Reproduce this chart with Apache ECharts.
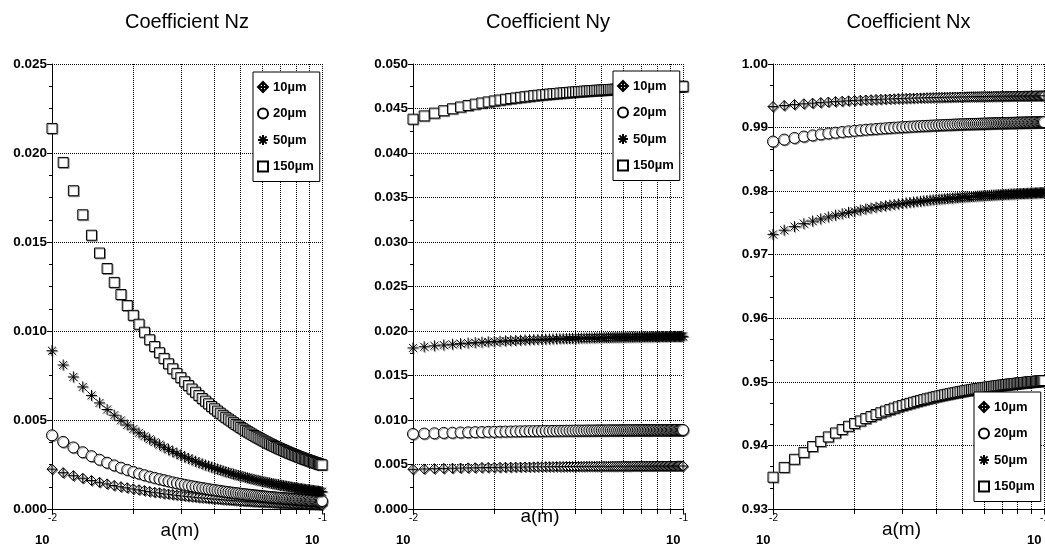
<!DOCTYPE html>
<html>
<head>
<meta charset="utf-8">
<script src="https://cdn.jsdelivr.net/npm/echarts@6/dist/echarts.min.js"></script>
<style>
html,body{margin:0;padding:0;background:#fff;}
#chart{width:1045px;height:552px;}
</style>
</head>
<body>
<div id="chart"></div>
<script>
// ---------------- DATA ----------------
const panelTitles = ['Coefficient Nz', 'Coefficient Ny', 'Coefficient Nx'];
const seriesNames = ['10µm', '20µm', '50µm', '150µm'];
const xAxisName = 'a(m)';
// sample positions a (m)
const aValues = [0.010,0.011,0.012,0.013,0.014,0.015,0.016,0.017,0.018,0.019,
  0.020,0.021,0.022,0.023,0.024,0.025,0.026,0.027,0.028,0.029,
  0.030,0.031,0.032,0.033,0.034,0.035,0.036,0.037,0.038,0.039,
  0.040,0.041,0.042,0.043,0.044,0.045,0.046,0.047,0.048,0.049,
  0.050,0.051,0.052,0.053,0.054,0.055,0.056,0.057,0.058,0.059,
  0.060,0.061,0.062,0.063,0.064,0.065,0.066,0.067,0.068,0.069,
  0.070,0.071,0.072,0.073,0.074,0.075,0.076,0.077,0.078,0.079,
  0.080,0.081,0.082,0.083,0.084,0.085,0.086,0.087,0.088,0.089,
  0.090,0.091,0.092,0.093,0.094,0.095,0.096,0.097,0.098,0.099,0.100];
// log-axis tick / grid positions and labelled decades
const xTickA = [0.01,0.02,0.03,0.04,0.05,0.06,0.07,0.08,0.09,0.1];
const xLabelA = [0.01, 0.1];

// Coefficient Nz
const nz10 = [0.00224,0.00204,0.00187,0.00173,0.00160,0.00150,0.00141,0.00132,0.00125,0.00119,
  0.00113,0.00108,0.00103,0.00098,0.00094,0.00091,0.00087,0.00084,0.00081,0.00078,
  0.00076,0.00073,0.00071,0.00069,0.00067,0.00065,0.00063,0.00062,0.00060,0.00059,
  0.00057,0.00056,0.00055,0.00053,0.00052,0.00051,0.00050,0.00049,0.00048,0.00047,
  0.00046,0.00045,0.00044,0.00044,0.00043,0.00042,0.00041,0.00041,0.00040,0.00039,
  0.00039,0.00038,0.00038,0.00037,0.00037,0.00036,0.00035,0.00035,0.00034,0.00034,
  0.00034,0.00033,0.00033,0.00032,0.00032,0.00031,0.00031,0.00031,0.00030,0.00030,
  0.00030,0.00029,0.00029,0.00029,0.00028,0.00028,0.00028,0.00027,0.00027,0.00027,
  0.00026,0.00026,0.00026,0.00026,0.00025,0.00025,0.00025,0.00025,0.00024,0.00024,0.00024];
const nz20 = [0.00414,0.00377,0.00346,0.00319,0.00297,0.00277,0.00260,0.00245,0.00232,0.00220,
  0.00209,0.00199,0.00190,0.00182,0.00175,0.00168,0.00162,0.00156,0.00150,0.00145,
  0.00141,0.00136,0.00132,0.00128,0.00125,0.00121,0.00118,0.00115,0.00112,0.00109,
  0.00107,0.00104,0.00102,0.00099,0.00097,0.00095,0.00093,0.00091,0.00089,0.00088,
  0.00086,0.00084,0.00083,0.00081,0.00080,0.00079,0.00077,0.00076,0.00075,0.00074,
  0.00072,0.00071,0.00070,0.00069,0.00068,0.00067,0.00066,0.00065,0.00064,0.00063,
  0.00063,0.00062,0.00061,0.00060,0.00059,0.00059,0.00058,0.00057,0.00057,0.00056,
  0.00055,0.00055,0.00054,0.00053,0.00053,0.00052,0.00052,0.00051,0.00051,0.00050,
  0.00050,0.00049,0.00049,0.00048,0.00048,0.00047,0.00047,0.00046,0.00046,0.00045,0.00045];
const nz50 = [0.00889,0.00809,0.00742,0.00686,0.00638,0.00596,0.00559,0.00527,0.00498,0.00472,
  0.00449,0.00428,0.00409,0.00392,0.00376,0.00361,0.00347,0.00335,0.00323,0.00312,
  0.00302,0.00293,0.00284,0.00276,0.00268,0.00260,0.00253,0.00247,0.00241,0.00235,
  0.00229,0.00224,0.00219,0.00214,0.00209,0.00205,0.00200,0.00196,0.00192,0.00189,
  0.00185,0.00182,0.00178,0.00175,0.00172,0.00169,0.00166,0.00163,0.00161,0.00158,
  0.00156,0.00153,0.00151,0.00149,0.00147,0.00144,0.00142,0.00140,0.00138,0.00137,
  0.00135,0.00133,0.00131,0.00130,0.00128,0.00126,0.00125,0.00123,0.00122,0.00120,
  0.00119,0.00118,0.00116,0.00115,0.00114,0.00113,0.00111,0.00110,0.00109,0.00108,
  0.00107,0.00106,0.00105,0.00104,0.00103,0.00102,0.00101,0.00100,0.00099,0.00098,0.00097];
const nz150 = [0.02138,0.01947,0.01788,0.01653,0.01538,0.01438,0.01351,0.01273,0.01205,0.01143,
  0.01088,0.01038,0.00993,0.00951,0.00913,0.00878,0.00846,0.00816,0.00788,0.00762,
  0.00738,0.00715,0.00694,0.00674,0.00656,0.00638,0.00621,0.00606,0.00591,0.00576,
  0.00563,0.00550,0.00538,0.00526,0.00515,0.00505,0.00495,0.00485,0.00475,0.00467,
  0.00458,0.00450,0.00442,0.00434,0.00427,0.00420,0.00413,0.00406,0.00400,0.00394,
  0.00388,0.00382,0.00377,0.00371,0.00366,0.00361,0.00356,0.00351,0.00347,0.00342,
  0.00338,0.00334,0.00330,0.00326,0.00322,0.00318,0.00314,0.00311,0.00307,0.00304,
  0.00301,0.00297,0.00294,0.00291,0.00288,0.00285,0.00282,0.00279,0.00277,0.00274,
  0.00271,0.00269,0.00266,0.00264,0.00261,0.00259,0.00257,0.00254,0.00252,0.00250,0.00248];

// Coefficient Ny
const ny10 = [0.00446,0.00450,0.00453,0.00456,0.00458,0.00460,0.00462,0.00463,0.00465,0.00466,
  0.00467,0.00468,0.00469,0.00470,0.00471,0.00471,0.00472,0.00472,0.00473,0.00474,
  0.00474,0.00475,0.00475,0.00475,0.00476,0.00476,0.00476,0.00477,0.00477,0.00477,
  0.00478,0.00478,0.00478,0.00478,0.00479,0.00479,0.00479,0.00479,0.00479,0.00479,
  0.00480,0.00480,0.00480,0.00480,0.00480,0.00480,0.00480,0.00480,0.00481,0.00481,
  0.00481,0.00481,0.00481,0.00481,0.00481,0.00482,0.00482,0.00482,0.00482,0.00482,
  0.00482,0.00482,0.00482,0.00482,0.00482,0.00482,0.00482,0.00482,0.00482,0.00483,
  0.00483,0.00483,0.00483,0.00483,0.00483,0.00483,0.00483,0.00483,0.00483,0.00483,
  0.00483,0.00483,0.00483,0.00483,0.00483,0.00484,0.00484,0.00484,0.00484,0.00484,0.00484];
const ny20 = [0.00843,0.00848,0.00851,0.00855,0.00857,0.00860,0.00862,0.00864,0.00865,0.00867,
  0.00868,0.00869,0.00870,0.00871,0.00872,0.00873,0.00874,0.00875,0.00875,0.00876,
  0.00876,0.00877,0.00877,0.00878,0.00878,0.00879,0.00879,0.00880,0.00880,0.00880,
  0.00881,0.00881,0.00881,0.00881,0.00882,0.00882,0.00882,0.00882,0.00883,0.00883,
  0.00883,0.00883,0.00883,0.00884,0.00884,0.00884,0.00884,0.00884,0.00884,0.00885,
  0.00885,0.00885,0.00885,0.00885,0.00885,0.00885,0.00885,0.00886,0.00886,0.00886,
  0.00886,0.00886,0.00886,0.00886,0.00886,0.00886,0.00886,0.00887,0.00887,0.00887,
  0.00887,0.00887,0.00887,0.00887,0.00887,0.00887,0.00887,0.00887,0.00887,0.00887,
  0.00887,0.00888,0.00888,0.00888,0.00888,0.00888,0.00888,0.00888,0.00888,0.00888,0.00888];
const ny50 = [0.01810,0.01823,0.01834,0.01843,0.01851,0.01858,0.01864,0.01869,0.01874,0.01878,
  0.01882,0.01885,0.01889,0.01891,0.01894,0.01896,0.01899,0.01901,0.01903,0.01904,
  0.01906,0.01908,0.01909,0.01910,0.01912,0.01913,0.01914,0.01915,0.01916,0.01917,
  0.01918,0.01919,0.01920,0.01921,0.01921,0.01922,0.01923,0.01923,0.01924,0.01925,
  0.01925,0.01926,0.01926,0.01927,0.01927,0.01928,0.01928,0.01929,0.01929,0.01930,
  0.01930,0.01930,0.01931,0.01931,0.01932,0.01932,0.01932,0.01933,0.01933,0.01933,
  0.01933,0.01934,0.01934,0.01934,0.01935,0.01935,0.01935,0.01935,0.01936,0.01936,
  0.01936,0.01936,0.01936,0.01937,0.01937,0.01937,0.01937,0.01937,0.01938,0.01938,
  0.01938,0.01938,0.01938,0.01939,0.01939,0.01939,0.01939,0.01939,0.01939,0.01940,0.01940];
const ny150 = [0.04380,0.04417,0.04448,0.04475,0.04497,0.04517,0.04534,0.04549,0.04562,0.04574,
  0.04585,0.04595,0.04604,0.04612,0.04619,0.04626,0.04632,0.04638,0.04644,0.04649,
  0.04653,0.04658,0.04662,0.04666,0.04669,0.04673,0.04676,0.04679,0.04682,0.04685,
  0.04688,0.04690,0.04692,0.04695,0.04697,0.04699,0.04701,0.04703,0.04705,0.04706,
  0.04708,0.04710,0.04711,0.04713,0.04714,0.04716,0.04717,0.04718,0.04719,0.04721,
  0.04722,0.04723,0.04724,0.04725,0.04726,0.04727,0.04728,0.04729,0.04730,0.04731,
  0.04731,0.04732,0.04733,0.04734,0.04735,0.04735,0.04736,0.04737,0.04737,0.04738,
  0.04739,0.04739,0.04740,0.04741,0.04741,0.04742,0.04742,0.04743,0.04743,0.04744,
  0.04744,0.04745,0.04745,0.04746,0.04746,0.04747,0.04747,0.04748,0.04748,0.04749,0.04749];

// Coefficient Nx
const nx10 = [0.99330,0.99347,0.99362,0.99374,0.99384,0.99393,0.99401,0.99408,0.99414,0.99420,
  0.99425,0.99430,0.99434,0.99437,0.99441,0.99444,0.99447,0.99450,0.99452,0.99455,
  0.99457,0.99459,0.99461,0.99462,0.99464,0.99466,0.99467,0.99469,0.99470,0.99471,
  0.99473,0.99474,0.99475,0.99476,0.99477,0.99478,0.99479,0.99480,0.99480,0.99481,
  0.99482,0.99483,0.99484,0.99484,0.99485,0.99486,0.99486,0.99487,0.99487,0.99488,
  0.99488,0.99489,0.99489,0.99490,0.99490,0.99491,0.99491,0.99492,0.99492,0.99492,
  0.99493,0.99493,0.99494,0.99494,0.99494,0.99495,0.99495,0.99495,0.99496,0.99496,
  0.99496,0.99497,0.99497,0.99497,0.99497,0.99498,0.99498,0.99498,0.99498,0.99499,
  0.99499,0.99499,0.99499,0.99500,0.99500,0.99500,0.99500,0.99500,0.99501,0.99501,0.99501];
const nx20 = [0.98780,0.98811,0.98837,0.98859,0.98877,0.98893,0.98908,0.98920,0.98931,0.98941,
  0.98950,0.98958,0.98966,0.98972,0.98978,0.98984,0.98989,0.98994,0.98999,0.99003,
  0.99007,0.99010,0.99014,0.99017,0.99020,0.99023,0.99026,0.99028,0.99031,0.99033,
  0.99035,0.99037,0.99039,0.99041,0.99043,0.99044,0.99046,0.99048,0.99049,0.99051,
  0.99052,0.99053,0.99055,0.99056,0.99057,0.99058,0.99059,0.99060,0.99061,0.99062,
  0.99063,0.99064,0.99065,0.99066,0.99067,0.99068,0.99069,0.99069,0.99070,0.99071,
  0.99071,0.99072,0.99073,0.99073,0.99074,0.99075,0.99075,0.99076,0.99076,0.99077,
  0.99078,0.99078,0.99079,0.99079,0.99080,0.99080,0.99080,0.99081,0.99081,0.99082,
  0.99082,0.99083,0.99083,0.99083,0.99084,0.99084,0.99085,0.99085,0.99085,0.99086,0.99086];
const nx50 = [0.97320,0.97386,0.97442,0.97489,0.97529,0.97563,0.97594,0.97621,0.97644,0.97666,
  0.97685,0.97702,0.97718,0.97733,0.97746,0.97758,0.97769,0.97780,0.97789,0.97798,
  0.97807,0.97815,0.97822,0.97829,0.97835,0.97841,0.97847,0.97853,0.97858,0.97863,
  0.97868,0.97872,0.97876,0.97880,0.97884,0.97888,0.97891,0.97895,0.97898,0.97901,
  0.97904,0.97907,0.97910,0.97912,0.97915,0.97917,0.97920,0.97922,0.97924,0.97926,
  0.97928,0.97930,0.97932,0.97934,0.97936,0.97938,0.97939,0.97941,0.97943,0.97944,
  0.97946,0.97947,0.97949,0.97950,0.97951,0.97953,0.97954,0.97955,0.97956,0.97958,
  0.97959,0.97960,0.97961,0.97962,0.97963,0.97964,0.97965,0.97966,0.97967,0.97968,
  0.97969,0.97970,0.97971,0.97972,0.97972,0.97973,0.97974,0.97975,0.97976,0.97976,0.97977];
const nx150 = [0.93500,0.93654,0.93782,0.93890,0.93983,0.94063,0.94134,0.94196,0.94251,0.94301,
  0.94345,0.94385,0.94422,0.94455,0.94486,0.94514,0.94540,0.94564,0.94586,0.94607,
  0.94627,0.94645,0.94662,0.94678,0.94693,0.94707,0.94721,0.94733,0.94745,0.94757,
  0.94768,0.94778,0.94788,0.94797,0.94806,0.94814,0.94823,0.94830,0.94838,0.94845,
  0.94852,0.94859,0.94865,0.94871,0.94877,0.94883,0.94888,0.94894,0.94899,0.94904,
  0.94908,0.94913,0.94917,0.94922,0.94926,0.94930,0.94934,0.94938,0.94942,0.94945,
  0.94949,0.94952,0.94955,0.94959,0.94962,0.94965,0.94968,0.94971,0.94973,0.94976,
  0.94979,0.94981,0.94984,0.94986,0.94989,0.94991,0.94993,0.94996,0.94998,0.95000,
  0.95002,0.95004,0.95006,0.95008,0.95010,0.95012,0.95014,0.95016,0.95018,0.95019,0.95021];

// y-axis ranges per panel
const yMinVals = [0, 0, 0.93];
const yMaxVals = [0.025, 0.05, 1.0];
const yStepVals = [0.005, 0.005, 0.01];

// ---------------- LAYOUT / STYLE ----------------
const FONT = '"Liberation Sans", Arial, Helvetica, sans-serif';
const panelValues = [[nz10, nz20, nz50, nz150], [ny10, ny20, ny50, ny150], [nx10, nx20, nx50, nx150]];
const layout = [
  {left: 52, width: 270, decimals: 3, minorSplit: 4, legendLeft: 253, legendTop: 72, nameGap: 12, namePadR: 14},
  {left: 413, width: 270, decimals: 3, minorSplit: 2, legendLeft: 613, legendTop: 71, nameGap: -2, namePadR: 16},
  {left: 773, width: 271, decimals: 2, minorSplit: 3, legendLeft: 974, legendTop: 392, nameGap: 11, namePadR: 14}
];
const gridTop = 64, gridBottom = 43;
const symbols = [
  'path://M0,-5L5,0L0,5L-5,0ZM0,-5L0,5M-5,0L5,0',
  'circle',
  'path://M0,-5L0,5M-5,0L5,0M-3.6,-3.6L3.6,3.6M-3.6,3.6L3.6,-3.6',
  'rect'
];
const symbolSizes = [10, 11, 11, 10];

const xTickVals = xTickA.map(v => Math.log10(v));
const xLabelVals = xLabelA.map(v => Math.log10(v));

const grids = [], xAxes = [], yAxes = [], series = [], legends = [], graphics = [];

layout.forEach((p, i) => {
  grids.push({left: p.left, width: p.width, top: gridTop, bottom: gridBottom, containLabel: false, outerBoundsMode: 'none'});
  xAxes.push({
    type: 'value', gridIndex: i, min: -2, max: -1, interval: 1,
    axisLine: {show: true, onZero: false, lineStyle: {color: '#000', width: 1}},
    axisTick: {show: true, inside: false, length: 5, customValues: xTickVals, lineStyle: {color: '#000', width: 1}},
    axisLabel: {
      show: true, customValues: xLabelVals, margin: 3, padding: [0, 12, 0, 0],
      formatter: v => '{e|' + Math.round(v) + '}\n{b|10}',
      rich: {
        e: {fontSize: 10, lineHeight: 12, width: 22, align: 'right', color: '#000', fontFamily: FONT},
        b: {fontSize: 13, lineHeight: 33, width: 22, align: 'left', color: '#000', fontWeight: 'bold', fontFamily: FONT}
      }
    },
    splitLine: {show: true, lineStyle: {color: '#000', width: 1, type: [1, 1]}},
    name: xAxisName, nameLocation: 'middle', nameGap: p.nameGap, nameMoveOverlap: false,
    nameTextStyle: {fontSize: 19, lineHeight: 19, color: '#000', fontFamily: FONT, padding: [0, p.namePadR, 0, 0]}
  });
  yAxes.push({
    type: 'value', gridIndex: i, min: yMinVals[i], max: yMaxVals[i], interval: yStepVals[i],
    axisLine: {show: true, onZero: false, lineStyle: {color: '#000', width: 1}},
    axisTick: {show: true, length: 5, lineStyle: {color: '#000', width: 1}},
    minorTick: {show: true, splitNumber: p.minorSplit, length: 3, lineStyle: {color: '#000', width: 1}},
    axisLabel: {formatter: v => v.toFixed(p.decimals), margin: 5, color: '#000', fontSize: 13.5, fontWeight: 'bold', fontFamily: FONT},
    splitLine: {show: true, lineStyle: {color: '#000', width: 1, type: [1, 1]}}
  });
  panelValues[i].forEach((vals, j) => {
    series.push({
      type: 'scatter', name: seriesNames[j], xAxisIndex: i, yAxisIndex: i,
      symbol: symbols[j], symbolSize: symbolSizes[j], symbolKeepAspect: true,
      itemStyle: {color: '#fff', borderColor: '#000', borderWidth: 1,
        shadowColor: 'rgba(0,0,0,0.35)', shadowOffsetX: 1, shadowOffsetY: 1, shadowBlur: 0, opacity: 1},
      emphasis: {disabled: true},
      data: aValues.map((a, k) => [Math.log10(a), vals[k]]),
      animation: false
    });
  });
  legends.push({
    orient: 'vertical', left: p.legendLeft, top: p.legendTop, data: seriesNames, selectedMode: false,
    backgroundColor: '#fff', borderColor: '#000', borderWidth: 1, padding: [8, 6, 8, 4],
    itemGap: 12.5, itemWidth: 10, itemHeight: 10,
    textStyle: {fontSize: 13, fontWeight: 'bold', color: '#000', fontFamily: FONT, lineHeight: 14}
  });
  graphics.push({
    type: 'text', x: p.left + p.width / 2, y: 22,
    style: {text: panelTitles[i], font: '20px ' + FONT, fill: '#000', align: 'center', verticalAlign: 'middle',
      textAlign: 'center', textVerticalAlign: 'middle'}
  });
});

const chart = echarts.init(document.getElementById('chart'), null, {renderer: 'canvas'});
chart.setOption({
  animation: false,
  backgroundColor: '#fff',
  grid: grids, xAxis: xAxes, yAxis: yAxes, series: series, legend: legends, graphic: graphics
});
</script>
</body>
</html>
